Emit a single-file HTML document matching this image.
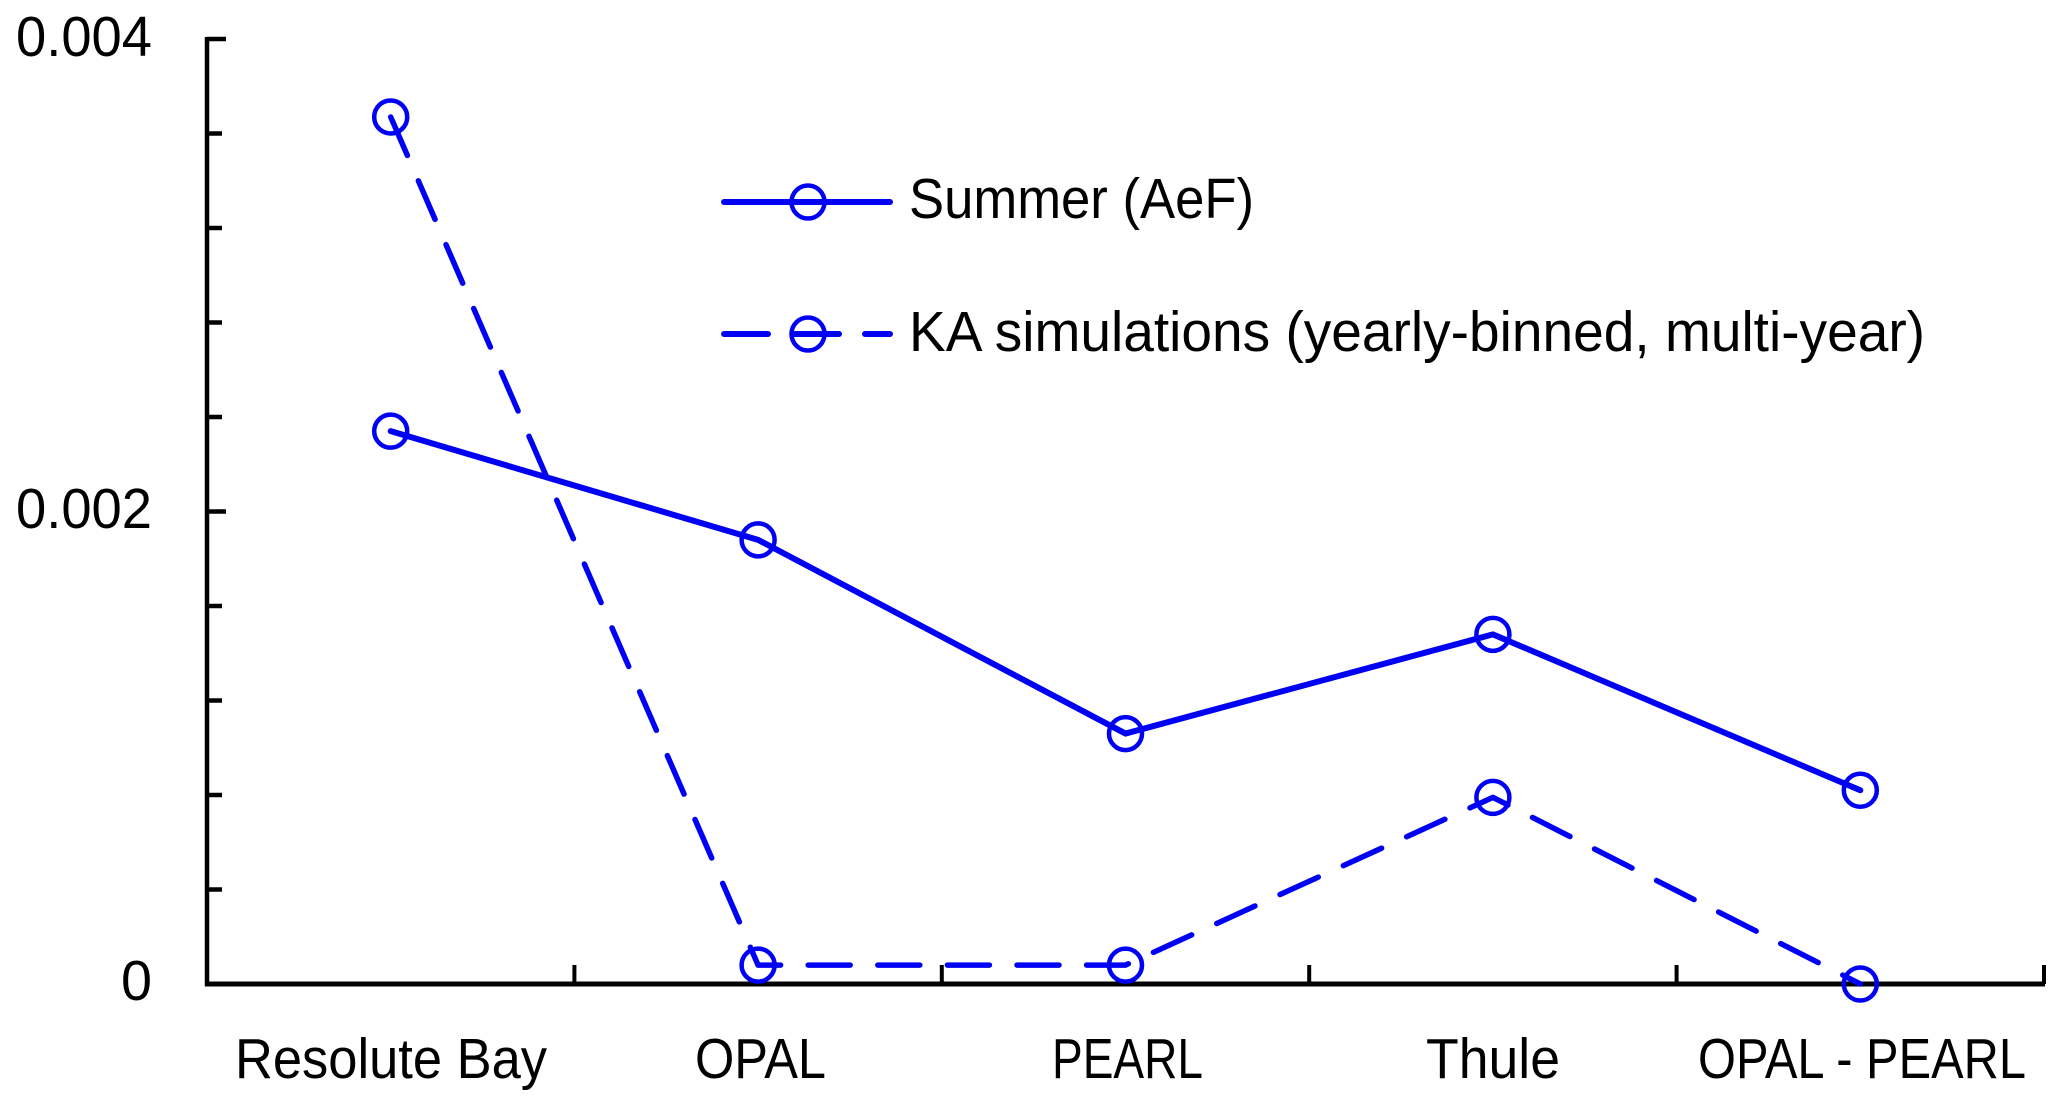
<!DOCTYPE html>
<html lang="en">
<head>
<meta charset="utf-8">
<title>Summer AeF vs KA simulations</title>
<style>
html,body{margin:0;padding:0;background:#fff;width:2067px;height:1107px;overflow:hidden}
svg{display:block}
text{font-family:"Liberation Sans",sans-serif;font-size:57px;fill:#000}
</style>
</head>
<body>
<svg id="chart" xmlns="http://www.w3.org/2000/svg" width="2067" height="1107" viewBox="0 0 2067 1107">
  <g id="axes"></g>
  <g id="series"></g>
  <g>
    <text x="16" y="56" textLength="136" lengthAdjust="spacingAndGlyphs">0.004</text>
    <text x="16" y="528" textLength="136" lengthAdjust="spacingAndGlyphs">0.002</text>
    <text x="121" y="1000" textLength="31" lengthAdjust="spacingAndGlyphs">0</text>
  </g>
  <g>
    <text x="235" y="1078" textLength="312" lengthAdjust="spacingAndGlyphs">Resolute Bay</text>
    <text x="695" y="1078" textLength="131" lengthAdjust="spacingAndGlyphs">OPAL</text>
    <text x="1052" y="1078" textLength="151" lengthAdjust="spacingAndGlyphs">PEARL</text>
    <text x="1426" y="1078" textLength="134" lengthAdjust="spacingAndGlyphs">Thule</text>
    <text x="1698" y="1078" textLength="328" lengthAdjust="spacingAndGlyphs">OPAL - PEARL</text>
  </g>
  <g>
    <g>
      <line x1="724" y1="202" x2="890" y2="202" stroke="#0000f5" stroke-width="6" stroke-linecap="round"/>
      <circle cx="808" cy="202" r="16.5" fill="none" stroke="#0000f5" stroke-width="4.5"/>
      <text x="909" y="218" textLength="345" lengthAdjust="spacingAndGlyphs">Summer (AeF)</text>
    </g>
    <g>
      <path d="M724 334H768M793 334H839M865 334H890" fill="none" stroke="#0000f5" stroke-width="6" stroke-linecap="round"/>
      <circle cx="808" cy="334" r="16.5" fill="none" stroke="#0000f5" stroke-width="4.5"/>
      <text x="909" y="351" textLength="1016" lengthAdjust="spacingAndGlyphs">KA simulations (yearly-binned, multi-year)</text>
    </g>
  </g>
</svg>
<script>
var categories = ["Resolute Bay", "OPAL", "PEARL", "Thule", "OPAL - PEARL"];
var summerValues = [0.00234, 0.00188, 0.00106, 0.00148, 0.00082];
var kaValues = [0.00367, 0.00008, 0.00008, 0.00079, 0];
var yMajorTicks = [0, 0.002, 0.004];
var yMinorTicks = [0.0004, 0.0008, 0.0012, 0.0016, 0.0024, 0.0028, 0.0032, 0.0036];

var NS = "http://www.w3.org/2000/svg";
var plotLeft = 207, plotRight = 2044, plotTop = 39, plotBottom = 984, yMax = 0.004;
var BLUE = "#0000f5";

function xScale(i) {
  return plotLeft + (i + 0.5) * (plotRight - plotLeft) / categories.length;
}
function xEdge(i) {
  return plotLeft + i * (plotRight - plotLeft) / categories.length;
}
function yScale(v) {
  return plotBottom - (v / yMax) * (plotBottom - plotTop);
}
function make(tag, attrs, parent) {
  var el = document.createElementNS(NS, tag);
  Object.keys(attrs).forEach(function (k) { el.setAttribute(k, attrs[k]); });
  parent.appendChild(el);
  return el;
}

var axes = document.getElementById("axes");
var seriesGroup = document.getElementById("series");

var yAxisLine = make("line", {x1: plotLeft, y1: plotTop - 2, x2: plotLeft, y2: plotBottom + 2, stroke: "#000", "stroke-width": 4.5}, axes);



var xAxisLine = make("line", {x1: plotLeft - 2, y1: plotBottom, x2: plotRight + 1, y2: plotBottom, stroke: "#000", "stroke-width": 5}, axes);



yMajorTicks.forEach(function (v) {
  var t = make("line", {x1: plotLeft, y1: yScale(v), x2: plotLeft + 19, y2: yScale(v), stroke: "#000", "stroke-width": 4.5}, axes);
  
  
});
yMinorTicks.forEach(function (v) {
  var t = make("line", {x1: plotLeft, y1: yScale(v), x2: plotLeft + 15, y2: yScale(v), stroke: "#000", "stroke-width": 4.5}, axes);
  
  
});
categories.forEach(function (c, i) {
  var t = make("line", {x1: xEdge(i + 1), y1: plotBottom, x2: xEdge(i + 1), y2: plotBottom - 19, stroke: "#000", "stroke-width": 4}, axes);
  
  
});

function drawSeries(values, name, dash, width) {
  var pts = values.map(function (v, i) { return xScale(i) + "," + yScale(v); }).join(" ");
  var line = make("polyline", {points: pts, fill: "none", stroke: BLUE, "stroke-width": width, "stroke-linecap": "round", "stroke-linejoin": "round"}, seriesGroup);
  if (dash) line.setAttribute("stroke-dasharray", dash);
  
  
  values.forEach(function (v, i) {
    var m = make("circle", {cx: xScale(i), cy: yScale(v), r: 16.5, fill: "none", stroke: BLUE, "stroke-width": 4.5}, seriesGroup);
    
    
  });
}
drawSeries(summerValues, "summer", null, 6);
drawSeries(kaValues, "ka-simulations", "42 27.6", 5.5);
</script>
</body>
</html>
